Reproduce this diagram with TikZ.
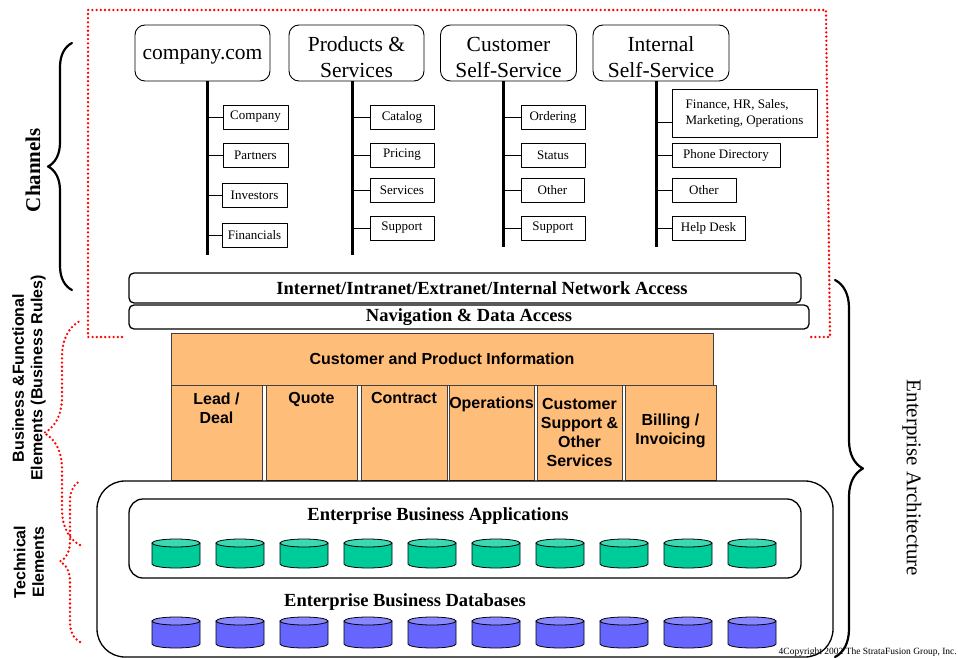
\documentclass[tikz,border=0pt]{standalone}
\usepackage{fontspec}
\setmainfont{Liberation Serif}
\setsansfont{Liberation Sans}
\usetikzlibrary{positioning,decorations.pathreplacing}

\definecolor{infoorange}{RGB}{255,189,122}
\definecolor{appgreen}{RGB}{0,204,153}
\definecolor{appgreentop}{RGB}{60,216,176}
\definecolor{dbblue}{RGB}{102,102,255}
\definecolor{dbbluetop}{RGB}{135,135,255}

\begin{document}
\begin{tikzpicture}[x=1pt, y=-1pt, line cap=round, line join=round,
    channel/.style={draw, rounded corners=10pt, line width=0.9pt, minimum width=135pt,
      minimum height=56pt, align=center, inner sep=1pt, text height=50pt, text depth=0pt,
      font=\fontsize{21.5}{26}\selectfont},
    item/.style={draw, line cap=butt, line width=0.8pt, minimum height=24pt, inner sep=2pt,
      font=\fontsize{13}{16}\selectfont},
    trunk/.style={line width=3pt, line cap=butt},
    tick/.style={line width=0.8pt},
    bar/.style={draw, rounded corners=5pt, line width=1.3pt, inner sep=0pt,
      font=\bfseries\fontsize{18.5}{21}\selectfont},
    infobox/.style={draw=black!75, fill=infoorange, line width=0.8pt, inner sep=0pt},
    infotext/.style={align=center, inner sep=0pt, font=\sffamily\bfseries\fontsize{16}{19}\selectfont},
    tier/.style={draw, line width=1.3pt},
    tiertext/.style={inner sep=0pt, font=\bfseries\fontsize{18.5}{21}\selectfont},
    drum/.style={draw, line width=0.8pt},
    side/.style={rotate=90, align=center, inner sep=0pt,
      font=\sffamily\bfseries\fontsize{16}{18.5}\selectfont},
    redline/.style={red, line width=2.6pt, line cap=round, dash pattern=on 0pt off 4.2pt},
  ]
  \useasboundingbox (0,0) rectangle (958,658);

  % Red dotted frame round the channels
  \draw[redline] (122,337) -- (88,337) -- (88,10) -- (826,10) -- (830,337) -- (808,337);

  % Channel heads
  \node[channel, text height=14pt] (web)  at (202.5,53) {company.com};
  \node[channel] (prod) at (356.5,53) {Products \&\\Services};
  \node[channel, minimum width=136pt] (cust) at (508.5,53) {Customer\\Self-Service};
  \node[channel, minimum width=136pt] (intl) at (661,53) {Internal\\Self-Service};

  % Bottom ends of the trunks
  \coordinate (webend)  at (207,255);
  \coordinate (prodend) at (352,255);
  \coordinate (custend) at (503,247);
  \coordinate (intlend) at (656,247);

  \draw[trunk] (web.south -| webend) -- (webend);
  \draw[trunk] (prod.south -| prodend) -- (prodend);
  \draw[trunk] (cust.south -| custend) -- (custend);
  \draw[trunk] (intl.south -| intlend) -- (intlend);

  % company.com pages
  \node[item, minimum width=65pt] (cmp) at (255.5,117)   {Company};
  \node[item, minimum width=65pt] (prt) at (255.5,155)   {Partners};
  \node[item, minimum width=65pt] (inv) at (254.5,195.5) {Investors};
  \node[item, minimum width=65pt] (fnc) at (254.5,235.5) {Financials};

  % products pages
  \node[item, minimum width=64pt] (cat) at (402,117) {Catalog};
  \node[item, minimum width=64pt] (prc) at (402,155) {Pricing};
  \node[item, minimum width=64pt] (svc) at (402,190) {Services};
  \node[item, minimum width=64pt] (psp) at (402,228) {Support};

  % customer pages
  \node[item, minimum width=64pt] (ord) at (553,117) {Ordering};
  \node[item, minimum width=64pt] (sts) at (553,155) {Status};
  \node[item, minimum width=63pt] (cot) at (552.5,190) {Other};
  \node[item, minimum width=64pt] (csp) at (553,228) {Support};

  % internal pages
  \node[item, minimum width=145pt, minimum height=48pt, align=left] (dept) at (744.5,113)
    {Finance, HR, Sales,\\Marketing, Operations};
  \node[item, minimum width=108pt] (phn) at (726,155) {Phone Directory};
  \node[item, minimum width=64pt]  (iot) at (704,190) {Other};
  \node[item, minimum width=73pt]  (hlp) at (708.5,228) {Help Desk};

  % Ticks from trunks to pages
  \foreach \b in {cmp,prt,inv,fnc} \draw[tick] (\b.west) -- (\b.west -| webend);
  \foreach \b in {cat,prc,svc,psp} \draw[tick] (\b.west) -- (\b.west -| prodend);
  \foreach \b in {ord,sts,cot,csp} \draw[tick] (\b.west) -- (\b.west -| custend);
  \foreach \b in {phn,iot,hlp} \draw[tick] (\b.west) -- (\b.west -| intlend);
  \draw[tick] ([yshift=-9pt]dept.west) -- ([yshift=-9pt]dept.west -| intlend);

  % Access bars
  \node[bar, minimum width=672pt, minimum height=30pt] (inet) at (465,288)
    {\hspace*{34pt}Internet/Intranet/Extranet/Internal Network Access};
  \node[bar, minimum width=680pt, minimum height=24pt] (nav) at (469,317)
    {Navigation \& Data Access};

  % Business and functional blocks
  \node[infobox, minimum width=542pt, minimum height=52pt, infotext] (cpi) at (442,359)
    {Customer and Product Information};
  \node[infobox, minimum width=91pt, minimum height=95pt] (lead) at (216.5,432.5) {};
  \node[infobox, minimum width=91pt, minimum height=95pt] (quote) at (311.5,432.5) {};
  \node[infobox, minimum width=86pt, minimum height=95pt] (contr) at (404,432.5) {};
  \node[infobox, minimum width=85pt, minimum height=95pt] (oper) at (491.5,432.5) {};
  \node[infobox, minimum width=85pt, minimum height=95pt, infotext] (csup) at (579.5,432.5)
    {Customer\\Support \&\\Other\\Services};
  \node[infobox, minimum width=91pt, minimum height=95pt] (bill) at (670.5,432.5) {};

  \node[infotext, below=8pt of lead.north]  (leadtxt)  {Lead /\\Deal};
  \node[infotext, below=8pt of quote.north] (quotetxt) {Quote};
  \node[infotext, below=8pt of contr.north] (contrtxt) {Contract};
  \node[infotext, below=12pt of oper.north] (opertxt)  {Operations};
  \node[infotext, yshift=2pt] (billtxt) at (bill.center) {Billing /\\Invoicing};

  % Technical tiers
  \node[tier, rounded corners=28pt, minimum width=736pt, minimum height=176pt] (tech) at (465,569) {};
  \node[tier, rounded corners=14pt, minimum width=672pt, minimum height=79pt] (apps) at (465,538.5) {};
  \node[tiertext] (appstxt) at (438,516) {Enterprise Business Applications};
  \node[tiertext] (dbtxt) at (405,602) {Enterprise Business Databases};

  % Application and database drums
  \foreach \i in {0,...,9} {
    \pgfmathsetmacro\cx{176+64*\i}
    \filldraw[drum, fill=appgreen] (\cx-24,543) -- (\cx-24,564) arc (180:0:24 and 4) -- (\cx+24,543) -- cycle;
    \filldraw[drum, fill=appgreentop] (\cx,543) ellipse (24 and 4);
    \filldraw[drum, fill=dbblue] (\cx-24,621) -- (\cx-24,644) arc (180:0:24 and 4) -- (\cx+24,621) -- cycle;
    \filldraw[drum, fill=dbbluetop] (\cx,621) ellipse (24 and 4);
  }

  % Side labels and braces
  \node[rotate=90, inner sep=0pt, font=\bfseries\fontsize{21}{25}\selectfont] (chan) at (33,170) {Channels};
  \node[side] (bizlbl) at (29,378) {Business \&Functional\\Elements (Business Rules)};
  \node[side] (techlbl) at (29,562) {Technical\\Elements};
  \node[rotate=-90, inner sep=0pt, font=\fontsize{21}{25}\selectfont] (ea) at (912,478) {Enterprise Architecture};

  \draw[decorate, decoration={brace, amplitude=24pt}, line width=2.2pt] (72,290) -- (72,43);
  \draw[decorate, decoration={brace, amplitude=28pt}, line width=2.2pt] (835,280) -- (835,657);
  \draw[redline, decorate, decoration={brace, amplitude=36pt}] (80,545) -- (80,321);
  \draw[redline, decorate, decoration={brace, amplitude=20pt}] (80,642) -- (80,481);

  \node[anchor=base east, inner sep=0pt, font=\fontsize{9.5}{11}\selectfont] (copy) at (957,654)
    {4Copyright 2002 The StrataFusion Group, Inc.};
\end{tikzpicture}
\end{document}
